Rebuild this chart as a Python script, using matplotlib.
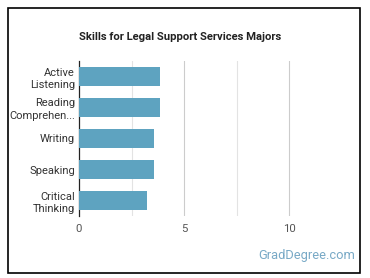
import matplotlib.pyplot as plt
from matplotlib.patches import Rectangle

plt.rcParams['font.family'] = ['Roboto', 'DejaVu Sans']

skills = ['Active\nListening', 'Reading\nComprehen...', 'Writing', 'Speaking', 'Critical\nThinking']
scores = [3.86, 3.86, 3.59, 3.56, 3.25]
xticks = [0, 5, 10]

W, H = 370, 278
fig = plt.figure(figsize=(W / 100, H / 100), dpi=100)
fig.patch.set_facecolor('white')

# axes placed in pixel terms
x0, x1 = 79, 352
y_top, y_bot = 61, 216
ax = fig.add_axes([x0 / W, 1 - y_bot / H, (x1 - x0) / W, (y_bot - y_top) / H])

ax.barh(range(len(skills)), scores, height=0.63, color='#5ea3c0', zorder=3)
ax.set_ylim(len(skills) - 0.5, -0.5)
ax.set_xlim(0, (x1 - x0) / 21.0)
ax.set_yticks(range(len(skills)))
ax.set_yticklabels(skills, fontsize=8.0, color='#333333', linespacing=1.35)
ax.set_xticks(xticks)
ax.set_xticklabels([str(t) for t in xticks], fontsize=8.2, color='#555555')
for g in [2.5, 5, 7.5, 10]:
    ax.axvline(g, color='#e3e3e3' if g % 5 else '#cccccc', lw=0.8, zorder=1)
ax.tick_params(axis='y', length=0, pad=3)
ax.tick_params(axis='x', length=0, pad=6)
for s in ['top', 'right', 'bottom']:
    ax.spines[s].set_visible(False)
ax.spines['left'].set_color('#222222')
ax.spines['left'].set_linewidth(0.9)

fig.text(180 / W, 1 - 37 / H, 'Skills for Legal Support Services Majors',
         ha='center', va='center', fontsize=8.1, fontweight='bold', color='#222222')
fig.text(355 / W, 1 - 255 / H, 'GradDegree.com', ha='right', va='center',
         fontsize=9.3, color='#78a9c6')

fig.patches.append(Rectangle((8 / W, 1 - 273 / H), 352 / W, 265 / H,
                             transform=fig.transFigure, fill=False,
                             edgecolor='black', lw=1.2))

fig.savefig('out.png', dpi=100)
